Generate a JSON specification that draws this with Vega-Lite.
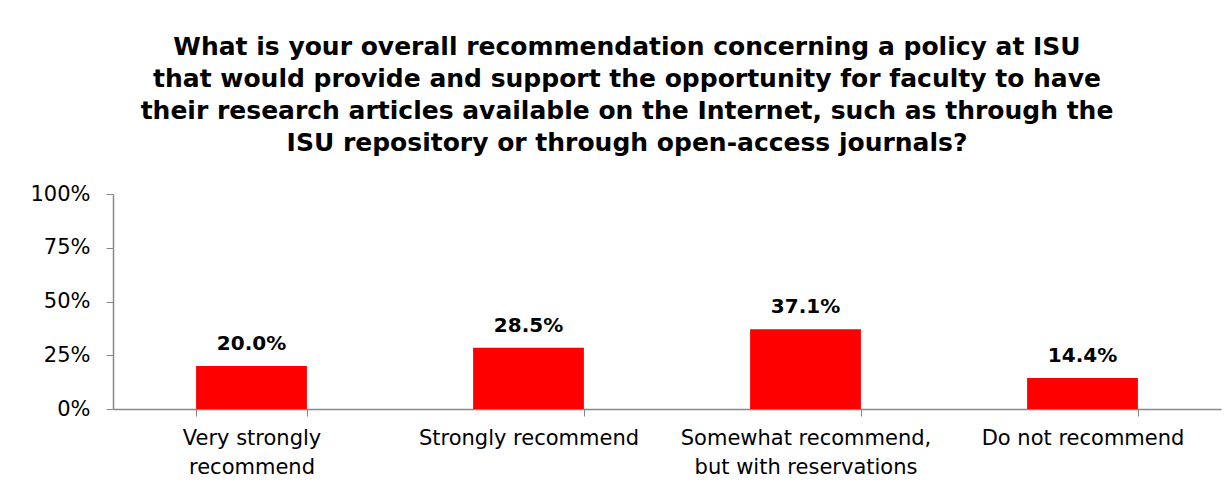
{
  "$schema": "https://vega.github.io/schema/vega-lite/v6.json",
  "autosize": {"type": "none"},
  "width": 1108,
  "height": 215,
  "padding": {"left": 113, "top": 194, "right": 9, "bottom": 82},
  "background": "white",
  "title": {
    "text": ["What is your overall recommendation concerning a policy at ISU", "that would provide and support the opportunity for faculty to have", "their research articles available on the Internet, such as through the", "ISU repository or through open-access journals?"],
    "font": "DejaVu Sans",
    "fontSize": 25,
    "fontWeight": "bold",
    "color": "black",
    "lineHeight": 32,
    "anchor": "middle",
    "dx": -40,
    "offset": 27
  },
  "data": {
    "values": [
      {"category": "Very strongly|recommend", "value": 0.200},
      {"category": "Strongly recommend", "value": 0.285},
      {"category": "Somewhat recommend,|but with reservations", "value": 0.371},
      {"category": "Do not recommend", "value": 0.144}
    ]
  },
  "config": {
    "view": {"stroke": null},
    "axis": {"domainColor": "#888888", "tickColor": "#888888", "labelColor": "black", "labelFont": "DejaVu Sans", "labelFontSize": 21, "labelLimit": 0, "grid": false, "title": null}
  },
  "encoding": {
    "x": {
      "field": "category", "type": "nominal", "sort": null,
      "scale": {"paddingInner": 0.6, "paddingOuter": 0.3},
      "axis": {"labelAngle": 0, "labelExpr": "split(datum.label, '|')", "tickBand": "extent", "tickSize": 7, "labelPadding": 11, "labelLineHeight": 29, "labelBaseline": "top", "domainWidth": 1.5}
    },
    "y": {
      "field": "value", "type": "quantitative",
      "scale": {"domain": [0, 1]},
      "axis": {"values": [0, 0.25, 0.5, 0.75, 1], "format": ".0%", "tickSize": 7, "labelPadding": 16, "domainWidth": 1.5}
    }
  },
  "layer": [
    {"mark": {"type": "bar", "color": "#FF0000"}},
    {"mark": {"type": "text", "baseline": "bottom", "dy": -12, "font": "DejaVu Sans", "fontSize": 20, "fontWeight": "bold", "color": "black"},
     "encoding": {"text": {"field": "value", "type": "quantitative", "format": ".1%"}}}
  ]
}
